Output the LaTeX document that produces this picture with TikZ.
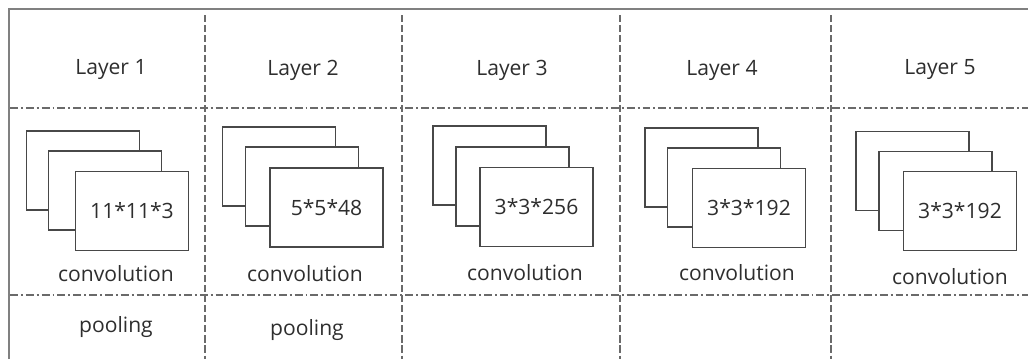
\documentclass[tikz,border=0pt]{standalone}
\usepackage{fontspec}
\setmainfont{Open Sans}
\usepackage{tikz}
\usetikzlibrary{positioning}
\definecolor{inkgray}{HTML}{2E2E2E}
\definecolor{linegray}{HTML}{484848}
\definecolor{gridgray}{HTML}{6A6A6A}

\begin{document}
\begin{tikzpicture}[x=0.02cm,y=-0.02cm,
    map node/.style={rectangle,draw=linegray,line width=1.1pt,fill=white,inner sep=0pt,
      minimum width=2.26cm,minimum height=1.58cm,text=inkgray,font=\fontsize{12}{14}\selectfont},
    text node/.style={inner sep=0pt,text=inkgray,font=\fontsize{12}{14}\selectfont},
    col line/.style={gridgray,line width=0.85pt,dash pattern=on 4pt off 1.7pt},
    row line/.style={gridgray,line width=0.85pt,dash pattern=on 4.5pt off 1.7pt on 1.1pt off 1.7pt}]
  \useasboundingbox (0,0) rectangle (1028,359);

  % frame and grid
  \draw[gray,line width=1.3pt] (9,359) -- (9,9) -- (1028,9);
  \draw[row line] (10,108) -- (1028,108);
  \draw[row line] (10,295) -- (1028,295);
  \draw[col line] (205,15) -- (205,359);
  \draw[col line] (402,15) -- (402,359);
  \draw[col line] (620,15) -- (620,359);
  \draw[col line] (831,15) -- (831,359);

  % layer titles
  \node[text node] (lay1) at (111,70) {Layer 1};
  \node[text node] (lay2) at (303,70) {Layer 2};
  \node[text node] (lay3) at (512,70) {Layer 3};
  \node[text node] (lay4) at (722,70) {Layer 4};
  \node[text node] (lay5) at (940,70) {Layer 5};

  % layer 1
  \node[map node] (l1a) at (83,170.5) {};
  \node[map node] (l1b) at (105,190.5) {};
  \node[map node] (l1c) at (132,211) {11*11*3};
  \node[text node] (conv1) at (116,274) {convolution};
  \node[text node] (pool1) at (116,327) {pooling};

  % layer 2
  \node[map node] (l2a) at (279,166.5) {};
  \node[map node] (l2b) at (302,186.5) {};
  \node[map node] (l2c) at (326.5,207.5) {5*5*48};
  \node[text node] (conv2) at (305,274) {convolution};
  \node[text node] (pool2) at (307,330) {pooling};

  % layer 3
  \node[map node] (l3a) at (489.5,165.5) {};
  \node[map node] (l3b) at (512.5,186.5) {};
  \node[map node] (l3c) at (536.5,207) {3*3*256};
  \node[text node] (conv3) at (525,273) {convolution};

  % layer 4
  \node[map node] (l4a) at (701.5,167.5) {};
  \node[map node] (l4b) at (724,187.5) {};
  \node[map node] (l4c) at (749,208) {3*3*192};
  \node[text node] (conv4) at (737,273) {convolution};

  % layer 5
  \node[map node] (l5a) at (912.5,171) {};
  \node[map node] (l5b) at (935.5,191) {};
  \node[map node] (l5c) at (960,211) {3*3*192};
  \node[text node] (conv5) at (950,277) {convolution};
\end{tikzpicture}
\end{document}
